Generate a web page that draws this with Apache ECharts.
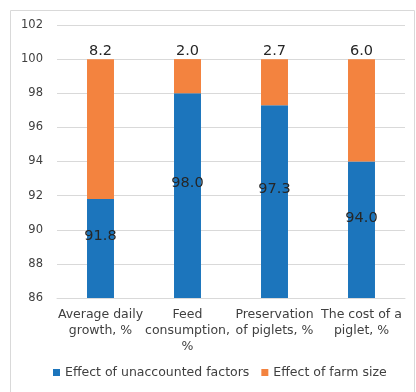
<!DOCTYPE html>
<html><head><meta charset="utf-8">
<script src="https://cdn.jsdelivr.net/npm/echarts@6/dist/echarts.min.js"></script>
<style>html,body{margin:0;padding:0;background:#fff}#c{width:416px;height:392px}</style>
</head><body><div id="c"></div>
<script>
var categories = ['Average daily\ngrowth, %', 'Feed\nconsumption,\n%', 'Preservation\nof piglets, %', 'The cost of a\npiglet, %'];
var unaccounted = [91.8, 98.0, 97.3, 94.0];
var farmSize = [8.2, 2.0, 2.7, 6.0];
var seriesNames = ['Effect of unaccounted factors', 'Effect of farm size'];
var yMin = 86, yMax = 102, yStep = 2;

var FONT = 'DejaVu Sans';
var chart = echarts.init(document.getElementById('c'), null, {renderer: 'canvas'});
chart.setOption({
  animation: false,
  textStyle: {fontFamily: FONT},
  graphic: [{type: 'rect', shape: {x: 10.5, y: 10.5, width: 404, height: 390}, style: {fill: 'none', stroke: '#d9d9d9', lineWidth: 1}, silent: true}],
  grid: {left: 57, right: 11, top: 25, bottom: 94},
  legend: {
    bottom: 8, left: 48, itemWidth: 7, itemHeight: 7, itemGap: 12, icon: 'rect',
    textStyle: {fontFamily: FONT, fontSize: 12.5, color: '#404040'},
    data: seriesNames
  },
  xAxis: {
    type: 'category', data: categories,
    axisLine: {show: true, lineStyle: {color: '#d9d9d9'}},
    axisTick: {show: false},
    axisLabel: {fontFamily: FONT, fontSize: 12.5, color: '#404040', lineHeight: 16, margin: 9, interval: 0}
  },
  yAxis: {
    type: 'value', min: yMin, max: yMax, interval: yStep,
    axisLine: {show: false}, axisTick: {show: false},
    splitLine: {lineStyle: {color: '#d9d9d9'}},
    axisLabel: {fontFamily: FONT, fontSize: 11.5, color: '#404040', margin: 14}
  },
  series: [
    {
      name: seriesNames[0], type: 'bar', stack: 'a', data: unaccounted, barWidth: '31%',
      itemStyle: {color: '#1c75bc'},
      label: {show: true, position: 'inside', offset: [0, -12], formatter: function(p){return p.value.toFixed(1);},
        fontFamily: FONT, fontSize: 14.5, color: '#262626'}
    },
    {
      name: seriesNames[1], type: 'bar', stack: 'a', data: farmSize, barWidth: '31%',
      itemStyle: {color: '#f3833f'},
      label: {show: true, position: 'top', distance: 0, formatter: function(p){return p.value.toFixed(1);},
        fontFamily: FONT, fontSize: 14.5, color: '#262626'}
    }
  ]
});
</script></body></html>
